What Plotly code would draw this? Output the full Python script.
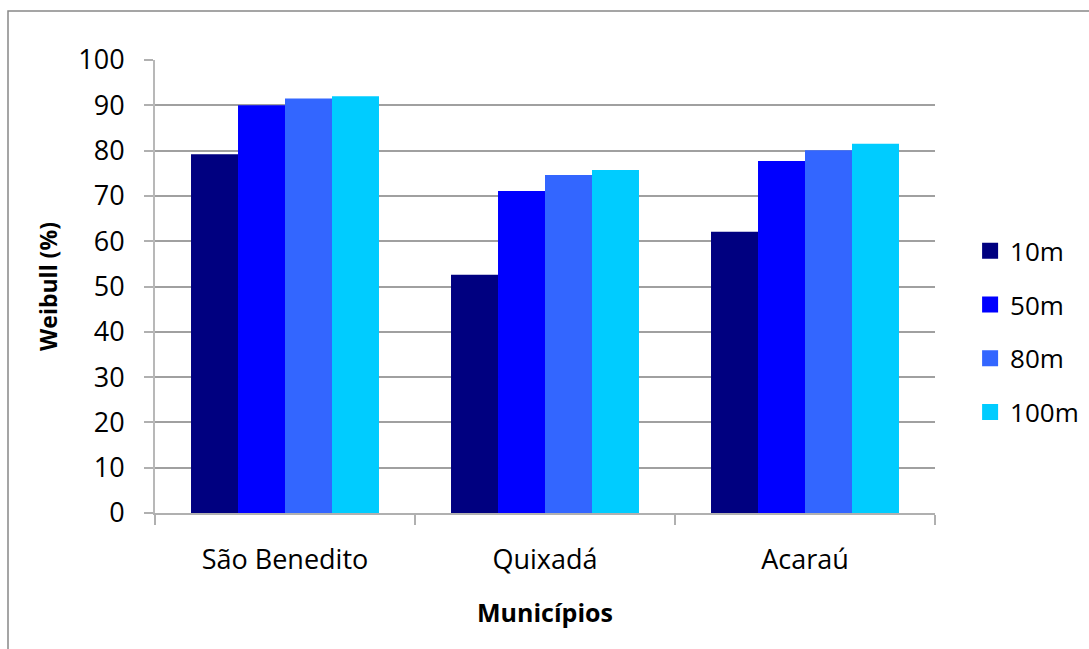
import plotly.graph_objects as go

municipios = ["São Benedito", "Quixadá", "Acaraú"]
alturas = ["10m", "50m", "80m", "100m"]
weibull_10m = [79.2, 52.6, 62.1]
weibull_50m = [90.0, 71.1, 77.7]
weibull_80m = [91.5, 74.6, 80.1]
weibull_100m = [92.0, 75.7, 81.5]
cores = ["#000080", "#0000FF", "#3366FF", "#00CCFF"]
y_ticks = list(range(0, 101, 10))

series = [weibull_10m, weibull_50m, weibull_80m, weibull_100m]

FONT = "Open Sans"

fig = go.Figure()
for nome, valores, cor in zip(alturas, series, cores):
    fig.add_trace(go.Bar(
        x=municipios, y=valores, name=nome,
        marker=dict(color=cor, line=dict(width=0)),
        showlegend=False,
    ))

# legend entries with larger square swatches
for i, (nome, cor) in enumerate(zip(alturas, cores)):
    fig.add_trace(go.Scatter(
        x=[None], y=[None], mode="markers", name=nome,
        marker=dict(symbol="square", size=19, color=cor),
        legendgroup=f"g{i}", showlegend=True,
    ))

fig.update_layout(
    width=1089, height=649,
    margin=dict(l=155, r=154, t=60, b=136, autoexpand=False),
    paper_bgcolor="white", plot_bgcolor="white",
    barmode="group", bargap=0.277, bargroupgap=0,
    font=dict(family=FONT, size=27, color="black"),
    legend=dict(
        x=1.045, y=0.40, xanchor="left", yanchor="middle",
        font=dict(size=26), tracegroupgap=17,
        itemsizing="trace", bgcolor="rgba(0,0,0,0)",
    ),
    showlegend=True,
)

fig.update_xaxes(
    type="category", tickson="boundaries",
    ticks="outside", ticklen=10, tickcolor="#b0b0b0", tickwidth=1.5,
    showline=True, linecolor="#b0b0b0", linewidth=1.5,
    showgrid=False, ticklabelstandoff=22,
    title=dict(text="<b>Municípios</b>", font=dict(size=25), standoff=28),
)
fig.update_yaxes(
    range=[0, 100], tickvals=y_ticks,
    ticks="outside", ticklen=9, tickcolor="#b0b0b0", tickwidth=1.5,
    showline=True, linecolor="#b8b8b8", linewidth=2,
    showgrid=True, gridcolor="#a0a0a0", gridwidth=1.5,
    ticklabelstandoff=14, zeroline=False,
    title=dict(text="<b>Weibull (%)</b>", font=dict(size=23), standoff=14),
)

# outer chart-area frame
fig.add_shape(
    type="rect", xref="paper", yref="paper",
    x0=(8 - 155) / 780, x1=2.0, y0=-1.0, y1=(513 - 11) / 453,
    line=dict(color="#888888", width=1.5), layer="below",
)

fig.write_html("out.html")
